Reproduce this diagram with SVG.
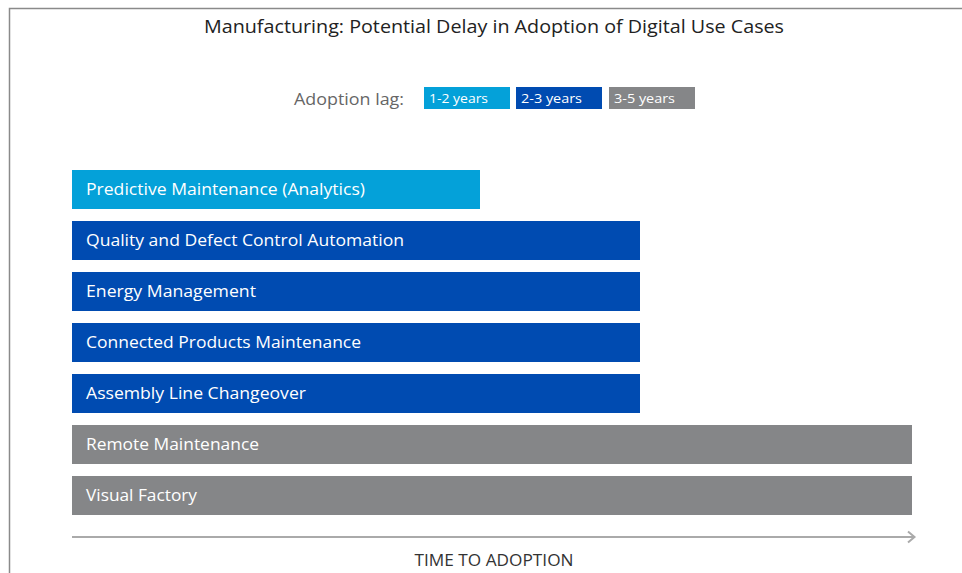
<svg xmlns="http://www.w3.org/2000/svg" width="962" height="573" viewBox="0 0 962 573">
<style>
text{font-family:"Open Sans","Noto Sans","Liberation Sans",sans-serif}
.lbl{fill:#fff;font-size:17px}
.lg{fill:#fff;font-size:13.5px}
.c1{fill:#04a1d9}.c2{fill:#004bb1}.c3{fill:#858688}
</style>
<rect width="962" height="573" fill="#fff"/>
<path d="M9.5 573V8.5H962" fill="none" stroke="#8a8a8a" stroke-width="1.5"/>
<text x="494" y="33" text-anchor="middle" font-size="19" fill="#222" textLength="580" lengthAdjust="spacingAndGlyphs">Manufacturing: Potential Delay in Adoption of Digital Use Cases</text>
<g id="legend">
<text x="294" y="105" font-size="17" fill="#666" textLength="110" lengthAdjust="spacingAndGlyphs">Adoption lag:</text>
<rect class="c1" x="424" y="87" width="86" height="22"/>
<text class="lg" x="429" y="103" textLength="59" lengthAdjust="spacingAndGlyphs">1-2 years</text>
<rect class="c2" x="516" y="87" width="86" height="22"/>
<text class="lg" x="521" y="103" textLength="61" lengthAdjust="spacingAndGlyphs">2-3 years</text>
<rect class="c3" x="609" y="87" width="86" height="22"/>
<text class="lg" x="614" y="103" textLength="61" lengthAdjust="spacingAndGlyphs">3-5 years</text>
</g>
<g id="n1"><rect class="c1" x="72" y="170" width="408" height="39"/><text class="lbl" x="86" y="195" textLength="279" lengthAdjust="spacingAndGlyphs">Predictive Maintenance (Analytics)</text></g>
<g id="n2"><rect class="c2" x="72" y="221" width="568" height="39"/><text class="lbl" x="86" y="246" textLength="318" lengthAdjust="spacingAndGlyphs">Quality and Defect Control Automation</text></g>
<g id="n3"><rect class="c2" x="72" y="272" width="568" height="39"/><text class="lbl" x="86" y="297" textLength="170" lengthAdjust="spacingAndGlyphs">Energy Management</text></g>
<g id="n4"><rect class="c2" x="72" y="323" width="568" height="39"/><text class="lbl" x="86" y="348" textLength="275" lengthAdjust="spacingAndGlyphs">Connected Products Maintenance</text></g>
<g id="n5"><rect class="c2" x="72" y="374" width="568" height="39"/><text class="lbl" x="86" y="399" textLength="220" lengthAdjust="spacingAndGlyphs">Assembly Line Changeover</text></g>
<g id="n6"><rect class="c3" x="72" y="425" width="840" height="39"/><text class="lbl" x="86" y="450" textLength="173" lengthAdjust="spacingAndGlyphs">Remote Maintenance</text></g>
<g id="n7"><rect class="c3" x="72" y="476" width="840" height="39"/><text class="lbl" x="86" y="501" textLength="111" lengthAdjust="spacingAndGlyphs">Visual Factory</text></g>
<g id="connectors">
<path d="M72 537H914M908 531.5L914.5 537L908 542.5" fill="none" stroke="#aaa" stroke-width="2"/>
</g>
<text x="494" y="566" text-anchor="middle" font-size="17" fill="#333" textLength="159" lengthAdjust="spacingAndGlyphs">TIME TO ADOPTION</text>
</svg>
